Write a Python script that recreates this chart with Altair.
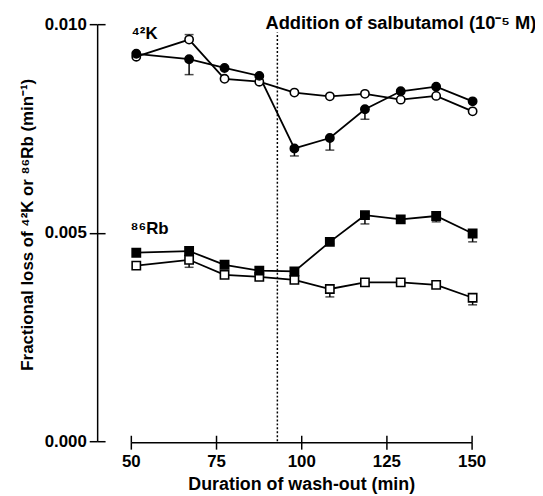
import altair as alt
import pandas as pd

# ---- data ----
times = [51.6, 67.1, 77.5, 87.7, 98.0, 108.4, 118.7, 129.2, 139.6, 150.3]  # min
k_control = [9.22, 9.63, 8.69, 8.62, 8.36, 8.27, 8.33, 8.19, 8.28, 7.91]   # x1e-3 /min
k_salb = [9.29, 9.16, 8.95, 8.76, 7.02, 7.27, 7.96, 8.39, 8.50, 8.15]
rb_control = [4.21, 4.35, 3.99, 3.94, 3.87, 3.65, 3.81, 3.81, 3.75, 3.44]
rb_salb = [4.52, 4.56, 4.23, 4.09, 4.07, 4.78, 5.42, 5.32, 5.40, 4.98]
# one-sided error bars (signed, x1e-3); 0 = none drawn
k_control_err = [0.10, 0.12, 0, 0, 0, 0, 0, 0, 0, 0]
k_salb_err = [0, -0.37, 0, 0, -0.18, -0.29, -0.24, 0, 0, 0]
rb_control_err = [0, -0.18, 0, 0, 0, -0.19, 0, -0.07, 0, -0.17]
rb_salb_err = [0, 0, 0, 0, 0, -0.05, -0.21, 0, -0.14, -0.20]

salb_time = 93.0
salb_top = 0.0098

x_ticks = [50, 75, 100, 125, 150]
y_ticks = [0.0, 0.005, 0.010]

label_text = ["⁴²K", "⁸⁶Rb", "Addition of salbutamol (10⁻⁵ M)"]
label_x = [50.2, 49.9, 89.5]
label_y = [0.00964, 0.00496, 0.00988]
label_size = [17, 17, 18.5]

series = [
    ("K control", k_control, k_control_err, "circle", "open"),
    ("K salbutamol", k_salb, k_salb_err, "circle", "filled"),
    ("Rb control", rb_control, rb_control_err, "square", "open"),
    ("Rb salbutamol", rb_salb, rb_salb_err, "square", "filled"),
]

rows = []
for name, vals, errs, shape, fill in series:
    for t, v, e in zip(times, vals, errs):
        rows.append(dict(t=t, v=v * 1e-3, end=(v + e) * 1e-3, err=e,
                         series=name, shape=shape, fill=fill))
df = pd.DataFrame(rows)
df_err = df[df.err != 0]

labels = pd.DataFrame(dict(text=label_text, x=label_x, y=label_y, size=label_size))
salb = pd.DataFrame(dict(t=[salb_time], y0=[0.0], y1=[salb_top]))

FONT = "Liberation Sans"
xs = alt.Scale(domain=[50, 150], nice=False, zero=False)
ys = alt.Scale(domain=[0, 0.010], nice=False, zero=True)

x_axis_main = alt.Axis(values=x_ticks, title="Duration of wash-out (min)", offset=1,
                       orient="bottom", labelFlush=False,
                       tickSize=7, tickWidth=1.5, domainWidth=1.5, domainColor="black",
                       tickColor="black", labelColor="black", titleColor="black",
                       labelFont=FONT, titleFont=FONT, labelFontSize=17, titleFontSize=18,
                       labelFontWeight="bold", titleFontWeight="bold",
                       labelPadding=5, titlePadding=6, grid=False)
y_axis_main = alt.Axis(values=y_ticks, format=".3f", offset=34, orient="left",
                       labelFlush=False,
                       title="Fractional loss of ⁴²K or ⁸⁶Rb (min⁻¹)", titleY=202,
                       tickSize=8, tickWidth=1.5, domainWidth=1.5, domainColor="black",
                       tickColor="black", labelColor="black", titleColor="black",
                       labelFont=FONT, titleFont=FONT, labelFontSize=17, titleFontSize=17,
                       labelFontWeight="bold", titleFontWeight="bold",
                       labelPadding=3, titlePadding=8, grid=False)
x_axis_inner = alt.Axis(values=x_ticks, offset=-6, orient="bottom", tickSize=7, tickWidth=1.5,
                        tickColor="black", labels=False, domain=False, title=None, grid=False)
y_axis_inner = alt.Axis(values=y_ticks, offset=26, orient="left", tickSize=8, tickWidth=1.5,
                        tickColor="black", labels=False, domain=False, title=None, grid=False)

base = alt.Chart(df)

lines = base.mark_line(color="black", strokeWidth=1.8).encode(
    x=alt.X("t:Q", scale=xs, axis=x_axis_main),
    y=alt.Y("v:Q", scale=ys, axis=y_axis_main),
    detail="series:N",
)

rule = alt.Chart(salb).mark_rule(color="black", strokeWidth=1.5, strokeDash=[2, 2]).encode(
    x=alt.X("t:Q", scale=xs, axis=x_axis_inner),
    y=alt.Y("y0:Q", scale=ys, axis=y_axis_inner),
    y2="y1:Q",
)

err_rules = alt.Chart(df_err).mark_rule(color="black", strokeWidth=1.5).encode(
    x=alt.X("t:Q", scale=xs, axis=None),
    y=alt.Y("v:Q", scale=ys, axis=None),
    y2="end:Q",
)
err_caps = alt.Chart(df_err).mark_tick(color="black", orient="horizontal", size=9,
                                       thickness=1.5).encode(
    x=alt.X("t:Q", scale=xs, axis=None),
    y=alt.Y("end:Q", scale=ys, axis=None),
)

points = base.mark_point(filled=True, stroke="black", strokeWidth=1.6, opacity=1,
                         size=70).encode(
    x=alt.X("t:Q", scale=xs, axis=None),
    y=alt.Y("v:Q", scale=ys, axis=None),
    shape=alt.Shape("shape:N", scale=alt.Scale(domain=["circle", "square"],
                                               range=["circle", "square"]), legend=None),
    fill=alt.Fill("fill:N", scale=alt.Scale(domain=["filled", "open"],
                                            range=["black", "white"]), legend=None),
)

texts = alt.Chart(labels).mark_text(align="left", baseline="alphabetic", font=FONT,
                                    fontWeight="bold", color="black").encode(
    x=alt.X("x:Q", scale=xs, axis=None),
    y=alt.Y("y:Q", scale=ys, axis=None),
    size=alt.Size("size:Q", scale=None, legend=None),
    text="text:N",
)

chart = alt.layer(lines, rule, err_rules, err_caps, points, texts).resolve_axis(
    x="independent", y="independent"
).properties(
    width=344, height=421,
    autosize=alt.AutoSizeParams(type="none"),
    padding={"left": 124, "top": 14, "right": 64, "bottom": 54},
    background="white",
).configure_view(stroke=None)

chart.save("out.html", embed_options={"renderer": "svg", "actions": False})
